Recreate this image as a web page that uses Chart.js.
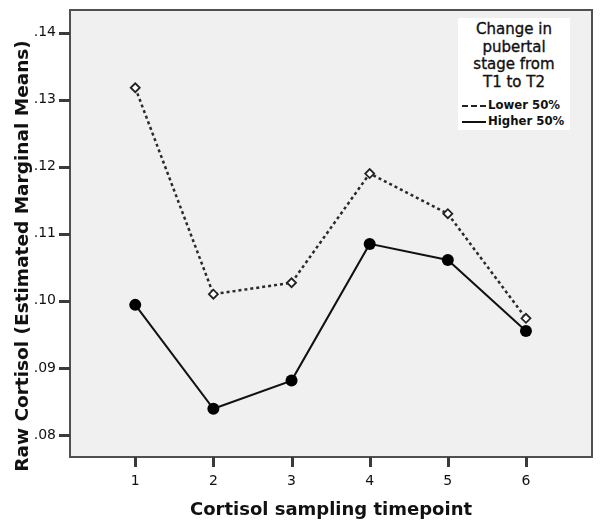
<!DOCTYPE html>
<html>
<head>
<meta charset="utf-8">
<script src="https://cdn.jsdelivr.net/npm/chart.js@4.4.1/dist/chart.umd.min.js"></script>
<style>
    html, body { margin: 0; padding: 0; background: #fff; }
    #wrap { position: relative; width: 602px; height: 528px; }
    #legendBox {
        position: absolute; left: 458px; top: 18px; width: 112px; height: 112px;
        background: #fff; font-family: "DejaVu Sans", sans-serif; color: #111;
    }
    #legendBox .ttl { text-align: center; font-size: 15px; line-height: 17.5px; margin-top: 3px; -webkit-text-stroke: 0.35px #111; }
    #legendBox .item { position: relative; font-family: "DejaVu Sans Condensed", "DejaVu Sans", sans-serif; font-size: 13px; font-weight: bold; height: 16px; line-height: 16px; padding-left: 30px; white-space: nowrap; }
    #legendBox .sample { position: absolute; left: 4px; top: 8px; width: 24px; height: 0; }
</style>
</head>
<body>
<div id="wrap">
    <canvas id="chart" width="602" height="528"></canvas>
    <div id="legendBox">
        <div class="ttl">Change in<br>pubertal<br>stage from<br>T1 to T2</div>
        <div style="height:6px"></div>
        <div class="item"><span class="sample" style="border-top:2px dashed #222"></span>Lower 50%</div>
        <div class="item"><span class="sample" style="border-top:2px solid #111"></span>Higher 50%</div>
    </div>
</div>
<script>
// sampling timepoints and estimated marginal means
const timepoints = [1, 2, 3, 4, 5, 6];
const lowerHalf = [0.1318, 0.1010, 0.1027, 0.1190, 0.1130, 0.0974];
const higherHalf = [0.0994, 0.0839, 0.0881, 0.1085, 0.1061, 0.0955];
const seriesNames = ['Lower 50%', 'Higher 50%'];
const yTickValues = [0.08, 0.09, 0.10, 0.11, 0.12, 0.13, 0.14];
const yTitle = 'Raw Cortisol (Estimated Marginal Means)';

const FONT = '"DejaVu Sans", sans-serif';

// grey plot background, frame, outer tick marks and the y title
const plotFrame = {
    id: 'plotFrame',
    beforeDraw(chart) {
        const a = chart.chartArea;
        const ctx = chart.ctx;
        ctx.save();
        ctx.fillStyle = '#f0f0f0';
        ctx.fillRect(a.left, a.top, a.right - a.left, a.bottom - a.top);
        ctx.restore();
    },
    afterDraw(chart) {
        const a = chart.chartArea;
        const ctx = chart.ctx;
        const xs = chart.scales.x, ys = chart.scales.y;
        ctx.save();
        ctx.setLineDash([]);
        ctx.strokeStyle = '#505050';
        ctx.lineWidth = 2;
        ctx.strokeRect(a.left, a.top, a.right - a.left, a.bottom - a.top);

        // tick marks outside the frame
        ctx.fillStyle = '#3a3a3a';
        for (const t of timepoints) {
            const px = Math.round(xs.getPixelForValue(t));
            ctx.fillRect(px - 1, Math.round(a.bottom), 3, 10);
        }
        for (const v of yTickValues) {
            const py = Math.round(ys.getPixelForValue(v));
            ctx.fillRect(Math.round(a.left) - 11, py - 1, 11, 3);
        }

        // y axis title, sits a little below the plot centre as in the source
        ctx.translate(23, 256);
        ctx.rotate(-Math.PI / 2);
        ctx.fillStyle = '#111';
        ctx.font = 'bold 18.5px ' + FONT;
        ctx.textAlign = 'center';
        ctx.textBaseline = 'middle';
        ctx.fillText(yTitle, 0, 0);
        ctx.restore();
    }
};

function toPoints(values) {
    return timepoints.map((t, i) => ({ x: t, y: values[i] }));
}

new Chart(document.getElementById('chart'), {
    type: 'line',
    data: {
        datasets: [
            {
                label: seriesNames[0],
                data: toPoints(lowerHalf),
                borderColor: '#2a2a2a',
                borderWidth: 2.5,
                borderDash: [3, 3],
                pointStyle: 'rectRot',
                pointRadius: 4.5,
                pointBackgroundColor: '#ffffff',
                pointBorderColor: '#222',
                pointBorderWidth: 1.8,
                tension: 0
            },
            {
                label: seriesNames[1],
                data: toPoints(higherHalf),
                borderColor: '#111',
                borderWidth: 2,
                pointStyle: 'circle',
                pointRadius: 6,
                pointBackgroundColor: '#000',
                pointBorderColor: '#000',
                pointBorderWidth: 0,
                tension: 0
            }
        ]
    },
    options: {
        responsive: false,
        animation: false,
        layout: { padding: { top: 10, right: 10, left: 0, bottom: 0 } },
        plugins: { legend: { display: false }, tooltip: { enabled: false } },
        scales: {
            x: {
                type: 'linear',
                min: 0.165,
                max: 6.845,
                afterBuildTicks: s => { s.ticks = timepoints.map(v => ({ value: v })); },
                afterFit: s => { s.height = 71; s.paddingLeft = 0; s.paddingRight = 0; },
                grid: { drawOnChartArea: false, drawTicks: false },
                border: { display: false },
                ticks: { color: '#111', font: { family: FONT, size: 14 }, padding: 16 },
                title: { display: true, text: 'Cortisol sampling timepoint', color: '#111',
                         font: { family: FONT, size: 18, weight: 'bold' }, padding: { top: 6, bottom: 7 } }
            },
            y: {
                min: 0.0767,
                max: 0.1434,
                afterBuildTicks: s => { s.ticks = yTickValues.map(v => ({ value: v })); },
                afterFit: s => { s.width = 70; s.paddingTop = 0; s.paddingBottom = 0; },
                grid: { drawOnChartArea: false, drawTicks: false },
                border: { display: false },
                ticks: { color: '#111', font: { family: FONT, size: 14 }, padding: 14,
                         callback: v => v.toFixed(2).replace(/^0/, '') }
            }
        }
    },
    plugins: [plotFrame]
});
</script>
</body>
</html>
